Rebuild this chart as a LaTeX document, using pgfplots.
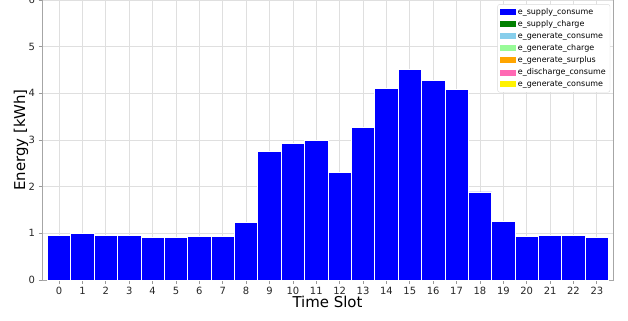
\documentclass[border=0pt]{standalone}
\usepackage{fontspec}
\setmainfont{DejaVu Sans}
\usepackage{pgfplots}
\pgfplotsset{compat=1.18}
\begin{document}
\begin{tikzpicture}[x=1bp,y=1bp]
\useasboundingbox (0,0) rectangle (628,320);
\begin{axis}[
  at={(42bp,40bp)}, anchor=south west, scale only axis,
  width=571bp, height=280bp,
  xmin=-0.73, xmax=23.69, ymin=0, ymax=6,
  xtick={0,...,23}, ytick={0,...,6},
  tick pos=left, tick align=outside, major tick length=3.5bp,
  tick style={gray!80, line width=0.8bp},
  axis line style={gray!70, line width=1bp},
  grid=major, grid style={gray!25, line width=0.8bp},
  /pgf/number format/assume math mode=true,
  ticklabel style={font=\fontsize{10}{12}\selectfont, text=black!85},
  xlabel={Time Slot}, ylabel={Energy [kWh]},
  every axis x label/.style={at={(axis description cs:0.5,-0.0786)}, anchor=center, font=\fontsize{15}{18}\selectfont},
  every axis y label/.style={at={(axis description cs:-0.0368,0.5)}, rotate=90, anchor=center, font=\fontsize{15}{18}\selectfont},
  legend style={at={(0.995,0.985)}, anchor=north east,
    font=\fontsize{8}{9.5}\selectfont, draw=gray!30, rounded corners=2bp,
    fill=white, row sep=0.6bp, inner sep=2.2bp},
  legend cell align=left,
  legend image code/.code={\fill[#1, draw=none, sharp corners] (0bp,-3bp) rectangle (16bp,3bp);},
]
\addplot[ybar, bar width=1, bar shift=0pt, fill=blue, draw=white, line width=0.7bp, forget plot] coordinates {
(0,0.95) (1,1.00) (2,0.95) (3,0.95) (4,0.915) (5,0.915) (6,0.93) (7,0.93)
(8,1.24) (9,2.76) (10,2.93) (11,2.99) (12,2.31) (13,3.27) (14,4.10) (15,4.51)
(16,4.28) (17,4.08) (18,1.886) (19,1.26) (20,0.93) (21,0.95) (22,0.95) (23,0.915)
};
\addlegendimage{fill=blue}
\addlegendentry{e\_supply\_consume}
\addlegendimage{fill={rgb,255:red,0;green,128;blue,0}}
\addlegendentry{e\_supply\_charge}
\addlegendimage{fill={rgb,255:red,135;green,206;blue,235}}
\addlegendentry{e\_generate\_consume}
\addlegendimage{fill={rgb,255:red,152;green,251;blue,152}}
\addlegendentry{e\_generate\_charge}
\addlegendimage{fill={rgb,255:red,255;green,165;blue,0}}
\addlegendentry{e\_generate\_surplus}
\addlegendimage{fill={rgb,255:red,255;green,105;blue,180}}
\addlegendentry{e\_discharge\_consume}
\addlegendimage{fill=yellow}
\addlegendentry{e\_generate\_consume}
\end{axis}
\end{tikzpicture}
\end{document}
